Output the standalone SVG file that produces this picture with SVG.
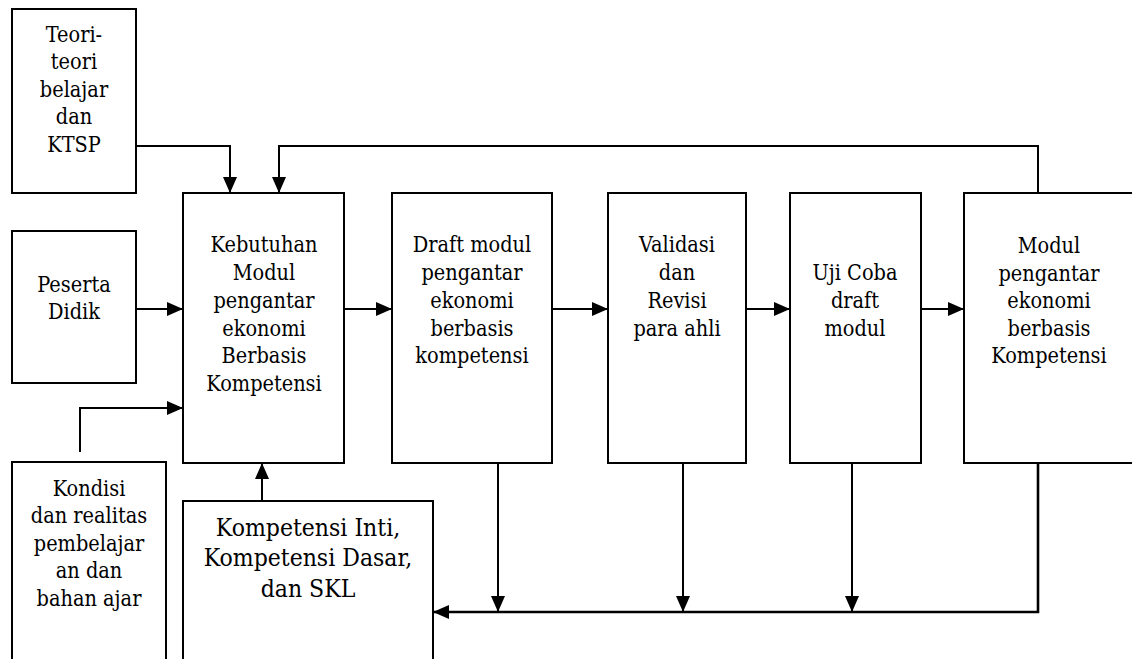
<svg xmlns="http://www.w3.org/2000/svg" width="1132" height="659" viewBox="0 0 1132 659">
<style>
.box{fill:#fff;stroke:#000;stroke-width:2}
text{font-family:'DejaVu Serif Condensed','DejaVu Serif','Liberation Serif',serif;font-stretch:condensed;font-size:21.5px;fill:#000;text-anchor:middle}
.tb{font-size:24.5px}
.c{fill:none;stroke:#000;stroke-width:2}
.cb{stroke-width:2.6}
</style>
<defs>
<marker id="ah" viewBox="0 0 16 14" refX="16" refY="7" markerWidth="16" markerHeight="14" orient="auto" markerUnits="userSpaceOnUse"><path d="M0,0 L16,7 L0,14 z" fill="#000"/></marker>
</defs>
<rect width="1132" height="659" fill="#fff"/>
<g id="teori"><rect class="box" x="12" y="9" width="124" height="184"/>
<text><tspan x="74" y="42">Teori-</tspan><tspan x="74" y="69">teori</tspan><tspan x="74" y="97">belajar</tspan><tspan x="74" y="124">dan</tspan><tspan x="74" y="152">KTSP</tspan></text></g>
<g id="peserta"><rect class="box" x="12" y="231" width="124" height="152"/>
<text><tspan x="74" y="292">Peserta</tspan><tspan x="74" y="319">Didik</tspan></text></g>
<g id="kondisi"><rect class="box" x="12" y="462" width="154" height="210"/>
<text><tspan x="89" y="496">Kondisi</tspan><tspan x="89" y="523">dan realitas</tspan><tspan x="89" y="551">pembelajar</tspan><tspan x="89" y="578">an dan</tspan><tspan x="89" y="606">bahan ajar</tspan></text></g>
<g id="kebutuhan"><rect class="box" x="183" y="193" width="161" height="270"/>
<text><tspan x="264" y="252">Kebutuhan</tspan><tspan x="264" y="280">Modul</tspan><tspan x="264" y="308">pengantar</tspan><tspan x="264" y="336">ekonomi</tspan><tspan x="264" y="363">Berbasis</tspan><tspan x="264" y="391">Kompetensi</tspan></text></g>
<g id="kompetensi"><rect class="box" x="183" y="501" width="250" height="180"/>
<text class="tb"><tspan x="308" y="536">Kompetensi Inti,</tspan><tspan x="308" y="566">Kompetensi Dasar,</tspan><tspan x="308" y="597">dan SKL</tspan></text></g>
<g id="draft"><rect class="box" x="392" y="193" width="160" height="270"/>
<text><tspan x="472" y="252">Draft modul</tspan><tspan x="472" y="280">pengantar</tspan><tspan x="472" y="308">ekonomi</tspan><tspan x="472" y="336">berbasis</tspan><tspan x="472" y="363">kompetensi</tspan></text></g>
<g id="validasi"><rect class="box" x="608" y="193" width="138" height="270"/>
<text><tspan x="677" y="252">Validasi</tspan><tspan x="677" y="280">dan</tspan><tspan x="677" y="308">Revisi</tspan><tspan x="677" y="336">para ahli</tspan></text></g>
<g id="ujicoba"><rect class="box" x="790" y="193" width="131" height="270"/>
<text><tspan x="855" y="280">Uji Coba</tspan><tspan x="855" y="308">draft</tspan><tspan x="855" y="336">modul</tspan></text></g>
<g id="modul"><rect class="box" x="964" y="193" width="172" height="270"/>
<text><tspan x="1049" y="253">Modul</tspan><tspan x="1049" y="281">pengantar</tspan><tspan x="1049" y="308">ekonomi</tspan><tspan x="1049" y="336">berbasis</tspan><tspan x="1049" y="363">Kompetensi</tspan></text></g>
<g id="connectors">
<path class="c" d="M136,146 H230 V193" marker-end="url(#ah)"/>
<path class="c" d="M1038,193 V146 H279 V193" marker-end="url(#ah)"/>
<path class="c" d="M136,309 H183" marker-end="url(#ah)"/>
<path class="c" d="M80,452 V408 H183" marker-end="url(#ah)"/>
<path class="c" d="M262,501 V463" marker-end="url(#ah)"/>
<path class="c" d="M344,309 H392" marker-end="url(#ah)"/>
<path class="c" d="M552,309 H608" marker-end="url(#ah)"/>
<path class="c" d="M746,309 H790" marker-end="url(#ah)"/>
<path class="c" d="M921,309 H964" marker-end="url(#ah)"/>
<path class="c" d="M498,463 V612" marker-end="url(#ah)"/>
<path class="c" d="M683,463 V612" marker-end="url(#ah)"/>
<path class="c" d="M852,463 V612" marker-end="url(#ah)"/>
<path class="c cb" d="M1038,463 V612 H433" marker-end="url(#ah)"/>
</g>
</svg>
